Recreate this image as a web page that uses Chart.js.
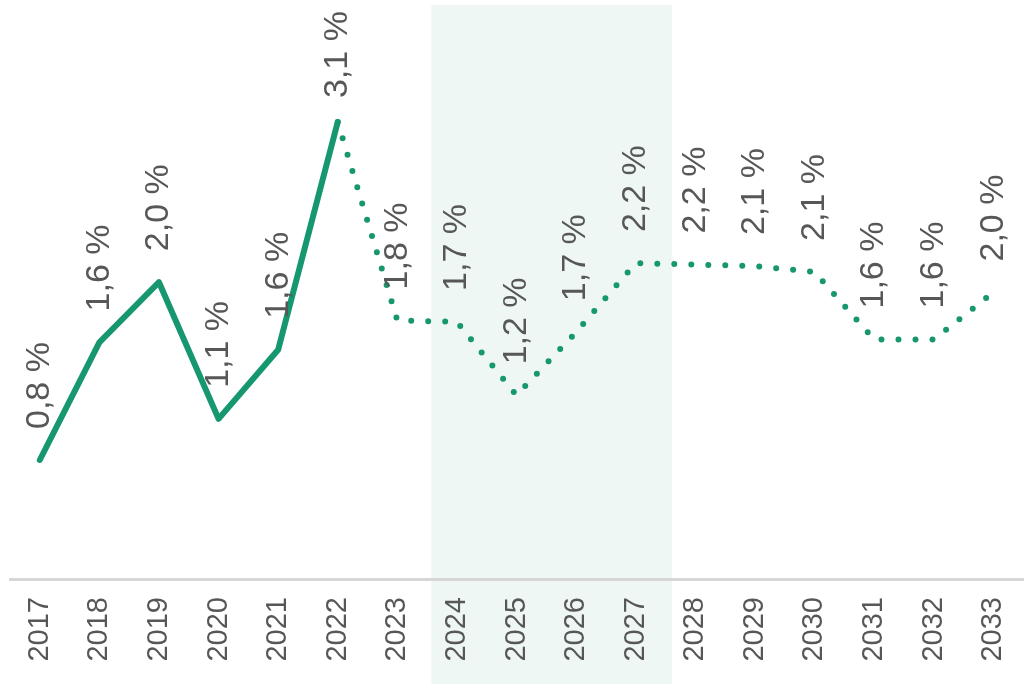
<!DOCTYPE html>
<html>
<head>
<meta charset="utf-8">
<script src="https://cdn.jsdelivr.net/npm/chart.js@4"></script>
<style>
  html, body { margin: 0; padding: 0; background: #fff; }
  #wrap { width: 1028px; height: 684px; position: relative; }
</style>
</head>
<body>
<div id="wrap"><canvas id="growthChart"></canvas></div>
<script>
// years on the x axis
const years = ["2017", "2018", "2019", "2020", "2021", "2022", "2023", "2024", "2025",
  "2026", "2027", "2028", "2029", "2030", "2031", "2032", "2033"];
// plotted values
const growth = [0.81, 1.61, 2.02, 1.09, 1.56, 3.11, 1.76, 1.75, 1.25,
  1.68, 2.15, 2.14, 2.13, 2.09, 1.63, 1.63, 1.95];
// values printed above the points
const printed = [0.8, 1.6, 2.0, 1.1, 1.6, 3.1, 1.8, 1.7, 1.2,
  1.7, 2.2, 2.2, 2.1, 2.1, 1.6, 1.6, 2.0];
const lastActual = 5; // 2022: solid up to here, dotted afterwards
const shadeFrom = 7;  // 2024
const shadeTo = 10;   // 2027

const green = "#16976f";
const textGrey = "#575757";

// light band behind the forecast years
const shadePlugin = {
  id: "shade",
  beforeDraw(chart) {
    const x = chart.scales.x;
    const step = x.getPixelForValue(1) - x.getPixelForValue(0);
    const left = x.getPixelForValue(shadeFrom) - step * 0.43;
    const right = x.getPixelForValue(shadeTo) + step * 0.61;
    const c = chart.ctx;
    c.save();
    c.fillStyle = "#eef7f4";
    c.fillRect(left, 5, right - left, chart.height - 5);
    c.restore();
  }
};

// rotated value labels above each point
const valueLabels = {
  id: "valueLabels",
  afterDatasetsDraw(chart) {
    const c = chart.ctx;
    const meta = chart.getDatasetMeta(0);
    c.save();
    c.fillStyle = textGrey;
    c.font = "34px 'Liberation Sans', Arial, sans-serif";
    c.textAlign = "left";
    c.textBaseline = "middle";
    meta.data.forEach((pt, i) => {
      c.save();
      c.translate(pt.x, pt.y - (i === lastActual ? 24 : 31));
      c.rotate(-Math.PI / 2);
      c.fillText(printed[i].toFixed(1).replace(".", ",") + " %", 0, 0);
      c.restore();
    });
    c.restore();
  }
};

new Chart(document.getElementById("growthChart"), {
  type: "line",
  data: {
    labels: years,
    datasets: [{
      data: growth,
      borderColor: green,
      borderWidth: 6,
      borderCapStyle: "round",
      borderJoinStyle: "round",
      pointRadius: 0,
      tension: 0,
      segment: {
        borderDash: ctx => ctx.p0DataIndex >= lastActual ? [0, 17] : undefined
      }
    }]
  },
  options: {
    responsive: true,
    maintainAspectRatio: false,
    animation: false,
    layout: { padding: { top: 6, left: 10, right: 5, bottom: 0 } },
    plugins: {
      legend: { display: false },
      tooltip: { enabled: false }
    },
    scales: {
      x: {
        offset: true,
        grid: { display: false, drawTicks: false },
        border: { display: true, color: "#d6d6d6", width: 3 },
        ticks: {
          color: textGrey,
          font: { family: "'Liberation Sans', Arial, sans-serif", size: 29 },
          minRotation: 90,
          maxRotation: 90,
          padding: 18,
          autoSkip: false
        },
        afterFit(scale) {
          scale.height = 105;
          scale.paddingLeft = 0;
          scale.paddingRight = 0;
        }
      },
      y: {
        display: false,
        min: 0,
        max: 3.9
      }
    }
  },
  plugins: [shadePlugin, valueLabels]
});
</script>
</body>
</html>
